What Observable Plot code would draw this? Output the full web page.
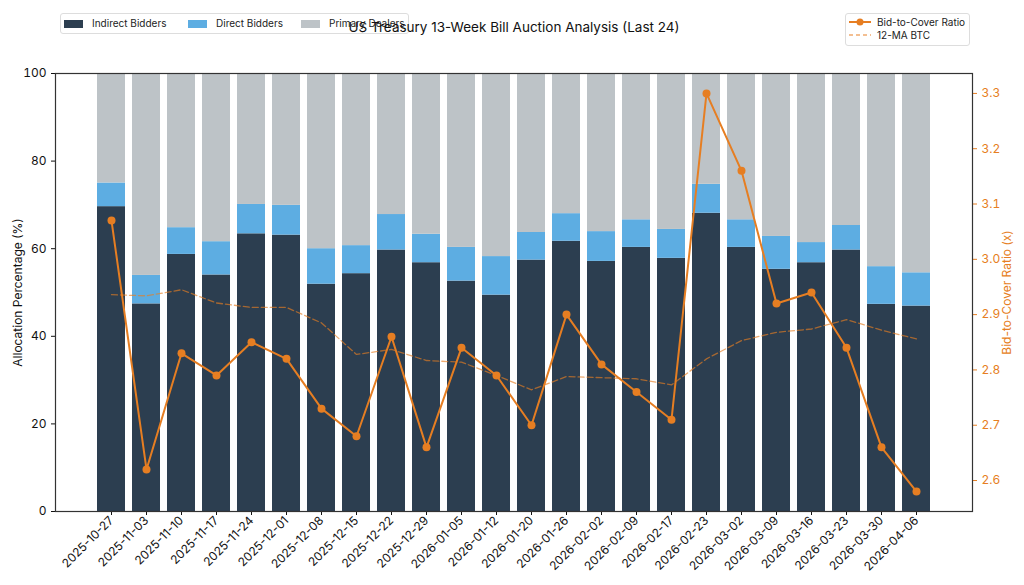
<!DOCTYPE html>
<html><head><meta charset="utf-8">
<script src="https://cdn.jsdelivr.net/npm/d3@7"></script>
<script src="https://cdn.jsdelivr.net/npm/@observablehq/plot@0.6"></script>
<style>
body{margin:0;background:#fff;font-family:Inter,"Noto Sans",sans-serif;color:#111;}
#wrap{position:relative;width:1024px;height:585px;overflow:hidden;}
.title{position:absolute;left:0;width:1028px;top:19px;text-align:center;font-size:13.5px;color:#111;z-index:3;}
.legend{position:absolute;border:1px solid #ddd;border-radius:3px;background:rgba(255,255,255,0.6);font-size:10px;color:#222;z-index:2;}
.legend .it{position:absolute;white-space:nowrap;line-height:12px;}
.sw{display:inline-block;width:19px;height:8px;vertical-align:middle;margin-right:9px;}
.ylab{position:absolute;font-size:12px;white-space:nowrap;transform-origin:center center;}
</style></head><body>
<div id="wrap"></div>
<script>
const dates = ["2025-10-27","2025-11-03","2025-11-10","2025-11-17","2025-11-24","2025-12-01","2025-12-08","2025-12-15","2025-12-22","2025-12-29","2026-01-05","2026-01-12","2026-01-20","2026-01-26","2026-02-02","2026-02-09","2026-02-17","2026-02-23","2026-03-02","2026-03-09","2026-03-16","2026-03-23","2026-03-30","2026-04-06"];
const indirect = [69.6,47.4,58.7,54.0,63.4,63.1,51.9,54.3,59.7,56.8,52.6,49.4,57.4,61.7,57.1,60.3,57.8,68.1,60.3,55.3,56.8,59.7,47.3,46.9];
const direct   = [5.4,6.5,6.1,7.6,6.7,6.8,8.1,6.4,8.1,6.5,7.7,8.8,6.3,6.3,6.8,6.3,6.6,6.6,6.3,7.5,4.6,5.6,8.6,7.6];
const primary  = [25.0,46.1,35.2,38.4,29.9,30.1,40.0,39.3,32.2,36.7,39.7,41.8,36.3,32.0,36.1,33.4,35.6,25.3,33.4,37.2,38.6,34.7,44.1,45.5];
const btc      = [3.07,2.62,2.83,2.79,2.85,2.82,2.73,2.68,2.86,2.66,2.84,2.79,2.70,2.90,2.81,2.76,2.71,3.30,3.16,2.92,2.94,2.84,2.66,2.58];
const btcMA    = [2.936,2.934,2.945,2.921,2.913,2.913,2.885,2.828,2.837,2.817,2.814,2.790,2.764,2.788,2.786,2.784,2.773,2.820,2.853,2.868,2.874,2.891,2.872,2.856];
const groups = ["Indirect Bidders","Direct Bidders","Primary Dealers"];
const groupColors = ["#2c3e50","#5dade2","#bdc3c7"];
const btcTicks = [2.6,2.7,2.8,2.9,3.0,3.1,3.2,3.3];
const pctTicks = [0,20,40,60,80,100];
const btcLo = 2.544, btcHi = 3.336;
const orange = "#e67e22";

const toPct = v => (v - btcLo) / (btcHi - btcLo) * 100;
const series = [indirect, direct, primary];
const rows = [];
dates.forEach((d, i) => groups.forEach((g, k) => rows.push({date: d, group: g, value: series[k][i]})));
const btcRows = dates.map((d, i) => ({date: d, v: toPct(btc[i])}));
const maRows = dates.map((d, i) => ({date: d, v: toPct(btcMA[i])}));

const chart = Plot.plot({
  width: 1024, height: 585,
  marginLeft: 55, marginRight: 52, marginTop: 73, marginBottom: 74,
  style: {fontFamily: "Inter, 'Noto Sans', sans-serif", fontSize: "12px", color: "#111", background: "transparent"},
  x: {domain: dates, paddingInner: 0.2, paddingOuter: 1.19, label: null},
  y: {domain: [0, 100], label: null},
  color: {domain: groups, range: groupColors},
  marks: [
    Plot.barY(rows, {x: "date", y: "value", fill: "group", order: groups}),
    Plot.line(maRows, {x: "date", y: "v", stroke: orange, strokeOpacity: 0.65, strokeWidth: 1.3, strokeDasharray: "6,3"}),
    Plot.line(btcRows, {x: "date", y: "v", stroke: orange, strokeWidth: 2}),
    Plot.dot(btcRows, {x: "date", y: "v", fill: orange, r: 4}),
    Plot.axisX({tickRotate: -45, tickSize: 4, tickPadding: 3, label: null, fontSize: 12}),
    Plot.axisY(pctTicks, {anchor: "left", tickSize: 4, label: null, fontSize: 12}),
    Plot.axisY(btcTicks.map(toPct), {anchor: "right", tickSize: 4, label: null, fontSize: 12, color: orange, tickFormat: d => (btcLo + d / 100 * (btcHi - btcLo)).toFixed(1)}),
    Plot.frame({stroke: "#333", strokeWidth: 1.2})
  ]
});
const wrap = document.getElementById("wrap");
wrap.appendChild(chart);

function div(cls, html, style) {
  const e = document.createElement("div");
  e.className = cls; e.innerHTML = html; Object.assign(e.style, style || {});
  wrap.appendChild(e); return e;
}
const l1 = div("legend", "", {left: "60px", top: "13px", width: "347px", height: "19px"});
const pos = [3, 127, 240];
groups.forEach((g, k) => {
  const it = document.createElement("div");
  it.className = "it";
  it.style.left = pos[k] + "px"; it.style.top = "3px";
  it.innerHTML = `<span class="sw" style="background:${groupColors[k]}"></span>${g}`;
  l1.appendChild(it);
});
const l2 = div("legend", "", {left: "845px", top: "13px", width: "123px", height: "31px"});
l2.innerHTML = `
<svg style="position:absolute;left:2px;top:2px" width="26" height="28">
<line x1="1" y1="6" x2="23" y2="6" stroke="${orange}" stroke-width="2"/><circle cx="12" cy="6" r="3.5" fill="${orange}"/>
<line x1="1" y1="19" x2="23" y2="19" stroke="${orange}" stroke-opacity="0.65" stroke-width="1.3" stroke-dasharray="4,3"/></svg>
<div class="it" style="left:31px;top:2px">Bid-to-Cover Ratio</div>
<div class="it" style="left:31px;top:15px">12-MA BTC</div>`;
div("title", "US Treasury 13-Week Bill Auction Analysis (Last 24)");
const yl = div("ylab", "Allocation Percentage (%)", {});
yl.style.left = (17 - yl.offsetWidth / 2) + "px"; yl.style.top = (292 - yl.offsetHeight / 2) + "px"; yl.style.transform = "rotate(-90deg)";
const yr = div("ylab", "Bid-to-Cover Ratio (x)", {color: orange});
yr.style.left = (1006 - yr.offsetWidth / 2) + "px"; yr.style.top = (292 - yr.offsetHeight / 2) + "px"; yr.style.transform = "rotate(-90deg)";
</script>
</body></html>
